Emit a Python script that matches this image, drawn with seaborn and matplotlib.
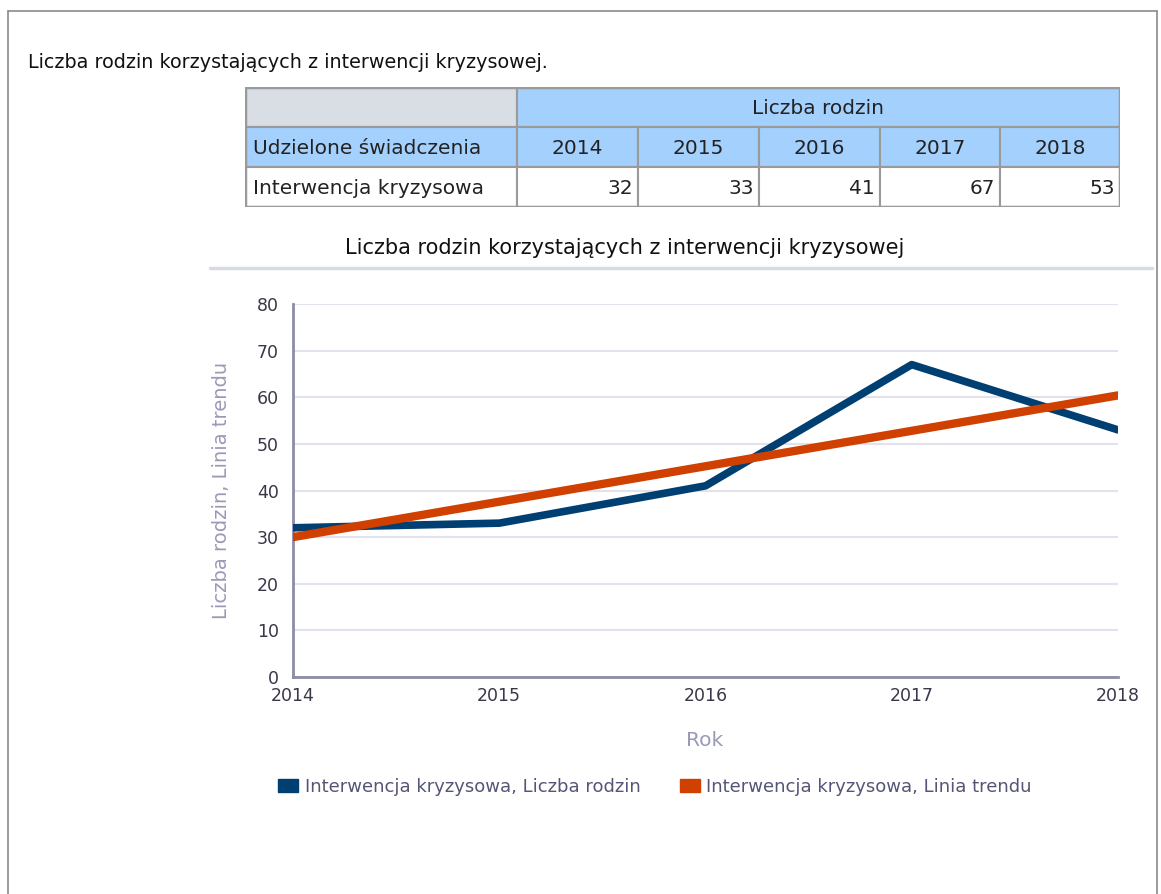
import matplotlib
matplotlib.use("Agg")
import matplotlib.pyplot as plt
from matplotlib.patches import Rectangle, Patch
from matplotlib.lines import Line2D
import seaborn as sns

# data
YEARS = [2014, 2015, 2016, 2017, 2018]
FAMILIES = [32, 33, 41, 67, 53]
TREND = [30.0, 37.6, 45.2, 52.8, 60.4]
ROW_LABEL = "Interwencja kryzysowa"
SERIES_NAMES = ["Interwencja kryzysowa, Liczba rodzin", "Interwencja kryzysowa, Linia trendu"]

BLUE = "#003f72"
ORANGE = "#d04000"
W, H = 1161, 894

sns.set_theme(style="white")
plt.rcParams["font.family"] = ["DejaVu Sans"]

fig = plt.figure(figsize=(W / 100, H / 100), dpi=100)

def fx(px):
    return px / W

def fy(py):
    return 1 - py / H

# outer frame
fig.add_artist(Line2D([fx(8), fx(8)], [fy(11), 0], color="#8a8a8a", lw=1.2))
fig.add_artist(Line2D([fx(8), fx(1157)], [fy(11), fy(11)], color="#8a8a8a", lw=1.2))
fig.add_artist(Line2D([fx(1157), fx(1157)], [fy(11), 0], color="#8a8a8a", lw=1.2))

fig.text(fx(28), fy(62), "Liczba rodzin korzystających z interwencji kryzysowej.",
         fontsize=13.8, color="#111111", va="center", ha="left")

# table
tax = fig.add_axes([fx(245), fy(207), fx(1120) - fx(245), fy(87) - fy(207)])
tax.set_xlim(0, 875)
tax.set_ylim(120, 0)
tax.axis("off")
edges = [0, 272, 393, 514, 635, 755, 875]
grey, lblue, edge = "#d9dde4", "#a3d0fc", "#9a9a9a"
tfs = 14.5
tax.add_patch(Rectangle((0, 0), 272, 40, fc=grey, ec=edge, lw=1.5))
tax.add_patch(Rectangle((272, 0), 603, 40, fc=lblue, ec=edge, lw=1.5))
tax.text((272 + 875) / 2, 21, "Liczba rodzin", ha="center", va="center", fontsize=tfs, color="#222")
tax.add_patch(Rectangle((0, 40), 272, 40, fc=lblue, ec=edge, lw=1.5))
tax.text(8, 61, "Udzielone świadczenia", ha="left", va="center", fontsize=tfs, color="#222")
tax.add_patch(Rectangle((0, 80), 272, 40, fc="white", ec=edge, lw=1.5))
tax.text(8, 101, ROW_LABEL, ha="left", va="center", fontsize=tfs, color="#222")
for i, (yr, val) in enumerate(zip(YEARS, FAMILIES)):
    x0, x1 = edges[i + 1], edges[i + 2]
    tax.add_patch(Rectangle((x0, 40), x1 - x0, 40, fc=lblue, ec=edge, lw=1.5))
    tax.text((x0 + x1) / 2, 61, str(yr), ha="center", va="center", fontsize=tfs, color="#222")
    tax.add_patch(Rectangle((x0, 80), x1 - x0, 40, fc="white", ec=edge, lw=1.5))
    tax.text(x1 - 5, 101, str(val), ha="right", va="center", fontsize=tfs, color="#222")
tax.add_patch(Rectangle((0, 0), 875, 120, fc="none", ec="#9a9a9a", lw=2.5))

# chart title and separator
fig.text(fx(625), fy(248), "Liczba rodzin korzystających z interwencji kryzysowej",
         fontsize=15, color="#111111", ha="center", va="center")
fig.add_artist(Line2D([fx(210), fx(1152)], [fy(268), fy(268)], color="#d8dae6", lw=2.5))

ax = fig.add_axes([fx(293), fy(677), fx(1118) - fx(293), fy(304) - fy(677)])
sns.lineplot(x=YEARS, y=FAMILIES, ax=ax, color=BLUE, linewidth=5.5, zorder=3)
sns.lineplot(x=YEARS, y=TREND, ax=ax, color=ORANGE, linewidth=6, zorder=4)
ax.set_xlim(YEARS[0], YEARS[-1])
ax.set_ylim(0, 80)
ax.set_yticks(range(0, 81, 10))
ax.set_xticks(YEARS)
ax.grid(axis="y", color="#e2e2ec", lw=1.5)
ax.set_axisbelow(True)
for s in ["top", "right"]:
    ax.spines[s].set_visible(False)
for s in ["left", "bottom"]:
    ax.spines[s].set_color("#8c8caa")
    ax.spines[s].set_linewidth(2)
ax.tick_params(axis="both", length=0, labelsize=12.5, labelcolor="#383848")
ax.tick_params(axis="y", pad=10)
ax.tick_params(axis="x", pad=7)
ax.set_ylabel("Liczba rodzin, Linia trendu", fontsize=14, color="#9a9ab8")
ax.yaxis.set_label_coords((231 - 293) / 825, 0.5)
ax.set_xlabel("Rok", fontsize=14.5, color="#9a9ab8")
ax.xaxis.set_label_coords((705 - 293) / 825, -(731 - 677) / 373)

handles = [Patch(fc=BLUE, ec=BLUE), Patch(fc=ORANGE, ec=ORANGE)]
fig.legend(handles, SERIES_NAMES, loc="center", bbox_to_anchor=(fx(655), fy(787)),
           ncol=2, frameon=False, fontsize=13, labelcolor="#555577",
           handlelength=1.1, handleheight=0.75, handletextpad=0.35, columnspacing=2.2)

fig.savefig("out.png", dpi=100)
